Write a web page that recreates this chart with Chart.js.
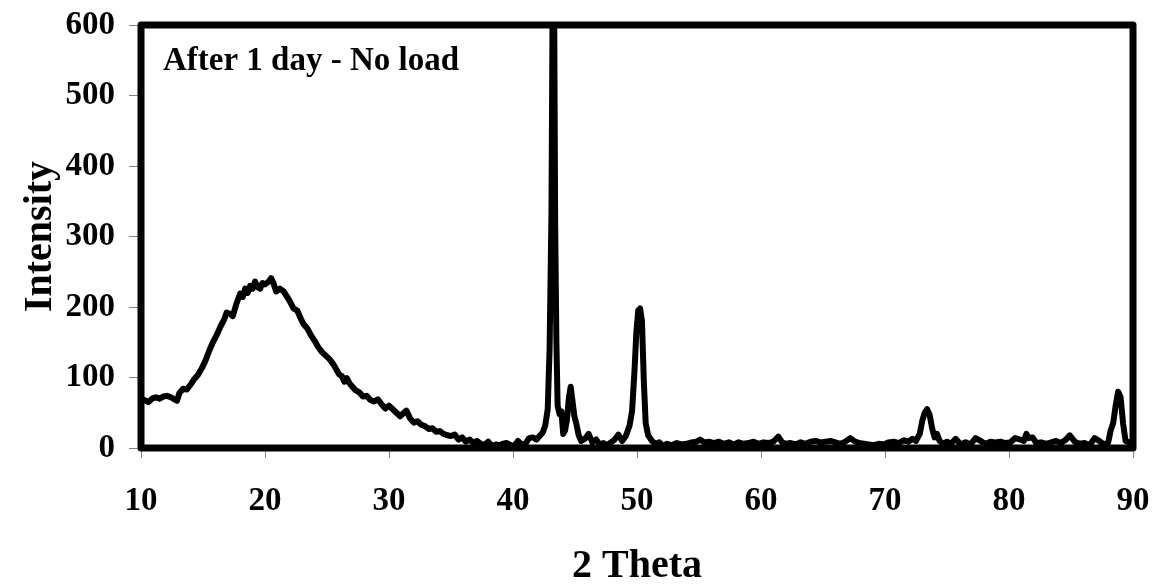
<!DOCTYPE html>
<html>
<head>
<meta charset="utf-8">
<title>XRD - After 1 day - No load</title>
<script src="https://cdn.jsdelivr.net/npm/chart.js@4/dist/chart.umd.min.js"></script>
<style>
  html, body { margin: 0; padding: 0; background: #fff; }
  #wrap { width: 1157px; height: 587px; position: relative; }
</style>
</head>
<body>
<div id="wrap"><canvas id="xrd-chart"></canvas></div>
<script>
// 2θ (deg) and intensity
const twoTheta = [
  10.0, 10.3, 10.6, 10.9, 11.2, 11.5, 11.8, 12.1, 12.4, 12.7, 12.9, 13.1, 13.4, 13.7, 14.0, 14.3, 14.6, 14.9,
  15.2, 15.5, 15.8, 16.1, 16.4, 16.7, 16.9, 17.2, 17.4, 17.7, 18.0, 18.2, 18.4, 18.6, 18.8, 19.0, 19.2, 19.4,
  19.6, 19.8, 20.0, 20.3, 20.5, 20.7, 20.9, 21.2, 21.5, 21.8, 22.0, 22.3, 22.6, 22.9, 23.1, 23.4, 23.7, 24.0,
  24.3, 24.6, 24.9, 25.2, 25.5, 25.8, 26.0, 26.2, 26.4, 26.6, 26.8, 27.0, 27.3, 27.6, 27.9, 28.2, 28.5, 28.8,
  29.1, 29.4, 29.7, 30.0, 30.3, 30.6, 30.9, 31.2, 31.4, 31.7, 32.0, 32.3, 32.6, 32.9, 33.2, 33.5, 33.8, 34.1,
  34.4, 34.7, 35.0, 35.3, 35.6, 35.9, 36.2, 36.5, 36.8, 37.1, 37.4, 37.7, 38.0, 38.3, 38.6, 38.9, 39.2, 39.5,
  39.8, 40.1, 40.4, 40.7, 41.0, 41.3, 41.6, 41.9, 42.2, 42.4, 42.6, 42.8, 42.95, 43.1, 43.2, 43.3, 43.4, 43.5,
  43.6, 43.75, 43.9, 44.05, 44.2, 44.35, 44.5, 44.65, 44.8, 44.95, 45.1, 45.3, 45.5, 45.8, 46.1, 46.4, 46.7, 47.0,
  47.3, 47.6, 47.9, 48.2, 48.5, 48.8, 49.1, 49.4, 49.6, 49.8, 49.95, 50.1, 50.25, 50.4, 50.55, 50.7, 50.9, 51.2,
  51.5, 51.8, 52.1, 52.4, 52.8, 53.2, 53.6, 54.0, 54.4, 54.8, 55.1, 55.4, 55.8, 56.2, 56.6, 57.0, 57.4, 57.8,
  58.2, 58.6, 59.0, 59.4, 59.8, 60.2, 60.6, 61.0, 61.4, 61.7, 62.0, 62.4, 62.8, 63.2, 63.6, 64.0, 64.4, 64.8,
  65.2, 65.6, 66.0, 66.4, 66.8, 67.2, 67.5, 67.9, 68.3, 68.7, 69.1, 69.5, 69.9, 70.3, 70.7, 71.1, 71.5, 71.9,
  72.2, 72.5, 72.8, 73.0, 73.2, 73.4, 73.6, 73.8, 74.0, 74.2, 74.4, 74.7, 75.0, 75.3, 75.7, 76.1, 76.5, 76.9,
  77.3, 77.7, 78.1, 78.5, 78.9, 79.3, 79.7, 80.1, 80.5, 80.9, 81.2, 81.4, 81.6, 81.9, 82.2, 82.6, 83.0, 83.4,
  83.8, 84.2, 84.6, 84.9, 85.3, 85.7, 86.1, 86.5, 86.9, 87.2, 87.5, 87.8, 88.0, 88.2, 88.4, 88.6, 88.8, 89.0,
  89.2, 89.4, 89.7, 90.0
];
const intensity = [
  66, 68, 65, 70, 72, 70, 73, 74, 72, 69, 67, 78, 84, 83, 90, 98, 104, 113,
  124, 138, 150, 160, 172, 182, 192, 190, 187, 205, 219, 214, 226, 220, 230, 226, 236, 228,
  226, 234, 232, 236, 241, 233, 222, 226, 222, 214, 208, 198, 195, 183, 176, 170, 160, 152,
  143, 136, 131, 126, 119, 110, 104, 102, 94, 99, 92, 88, 82, 79, 73, 74, 68, 66,
  69, 62, 56, 60, 55, 50, 45, 50, 53, 42, 36, 38, 33, 31, 27, 28, 23, 24,
  20, 18, 17, 19, 12, 15, 9, 12, 7, 10, 6, 4, 9, 3, 5, 4, 6, 7,
  4, 3, 10, 5, 6, 14, 15, 12, 18, 22, 32, 55, 140, 330, 650, 700, 320, 150,
  60, 48, 52, 20, 25, 40, 70, 87, 66, 45, 35, 18, 10, 13, 20, 8, 12, 5,
  7, 4, 8, 12, 19, 10, 17, 32, 52, 110, 165, 195, 198, 180, 95, 35, 18, 10,
  6, 8, 3, 6, 4, 7, 5, 6, 8, 9, 12, 8, 9, 7, 9, 6, 8, 5,
  8, 6, 7, 9, 6, 8, 7, 9, 16, 8, 6, 7, 5, 8, 6, 9, 10, 8,
  9, 10, 8, 6, 9, 14, 10, 7, 6, 5, 4, 6, 5, 8, 9, 7, 11, 9,
  13, 10, 20, 38, 50, 55, 47, 28, 15, 20, 10, 6, 9, 6, 13, 5, 8, 5,
  14, 10, 6, 9, 8, 9, 7, 8, 14, 12, 10, 20, 14, 15, 7, 8, 6, 8,
  10, 7, 12, 18, 9, 6, 7, 4, 14, 11, 7, 5, 8, 25, 35, 60, 80, 72,
  35, 10, 8, 6
];

// 軸の目盛り
const xTicks = [10, 20, 30, 40, 50, 60, 70, 80, 90];
const yTicks = [0, 100, 200, 300, 400, 500, 600];

const panelLabel = 'After 1 day - No load';
const xTitle = '2 Theta';
const yTitle = 'Intensity';

const serif = "'Liberation Serif', 'Times New Roman', Times, serif";
Chart.defaults.font.family = serif;
Chart.defaults.font.weight = 'bold';
Chart.defaults.color = '#000';

// 枠線とパネルラベル
const framePlugin = {
  id: 'frame',
  afterDatasetsDraw(chart) {
    const { ctx, chartArea } = chart;
    ctx.save();
    ctx.strokeStyle = '#000';
    ctx.lineWidth = 7;
    ctx.lineJoin = 'round';
    ctx.strokeRect(chartArea.left, chartArea.top,
      chartArea.right - chartArea.left, chartArea.bottom - chartArea.top);
    ctx.fillStyle = '#000';
    ctx.font = 'bold 33px ' + serif;
    ctx.textBaseline = 'alphabetic';
    ctx.textAlign = 'left';
    ctx.fillText(panelLabel, chartArea.left + 22, chartArea.top + 45);
    ctx.restore();
  }
};

const points = twoTheta.map((x, i) => ({ x: x, y: intensity[i] }));

new Chart(document.getElementById('xrd-chart'), {
  type: 'line',
  data: {
    datasets: [{
      data: points,
      borderColor: '#000',
      borderWidth: 6,
      pointRadius: 0,
      tension: 0,
      fill: false,
      borderJoinStyle: 'round',
      borderCapStyle: 'round'
    }]
  },
  options: {
    responsive: true,
    maintainAspectRatio: false,
    animation: false,
    layout: { padding: { top: 25, right: 24, left: 0, bottom: 0 } },
    plugins: {
      legend: { display: false },
      tooltip: { enabled: false }
    },
    scales: {
      x: {
        type: 'linear',
        min: 10,
        max: 90,
        afterFit: s => { s.height = 139; s.paddingLeft = 0; s.paddingRight = 0; },
        afterBuildTicks: s => { s.ticks = xTicks.map(v => ({ value: v })); },
        border: { display: false },
        grid: { drawOnChartArea: false, drawTicks: true, tickLength: 10, color: '#808080', lineWidth: 1 },
        ticks: { font: { size: 33, weight: 'bold' }, padding: 24, maxRotation: 0 },
        title: {
          display: true,
          text: xTitle,
          font: { size: 40, weight: 'bold', lineHeight: 1 },
          padding: { top: 0, bottom: 0 }
        }
      },
      y: {
        min: 0,
        max: 600,
        afterFit: s => { s.width = 141; s.paddingTop = 0; s.paddingBottom = 0; },
        afterBuildTicks: s => { s.ticks = yTicks.map(v => ({ value: v })); },
        border: { display: false },
        grid: { drawOnChartArea: false, drawTicks: true, tickLength: 12, color: '#808080', lineWidth: 1 },
        ticks: { font: { size: 33, weight: 'bold' }, padding: 14 },
        title: {
          display: true,
          text: yTitle,
          font: { size: 40, weight: 'bold', lineHeight: 1 },
          padding: { top: 21, bottom: 0 }
        }
      }
    }
  },
  plugins: [framePlugin]
});
</script>
</body>
</html>
